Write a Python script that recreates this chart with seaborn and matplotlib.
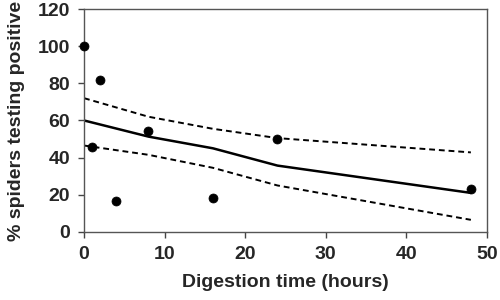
import matplotlib
matplotlib.use("Agg")
import matplotlib.pyplot as plt
import seaborn as sns
import pandas as pd

# observed points
hours = [0, 1, 2, 4, 8, 16, 24, 48]
pct_positive = [100, 45.5, 82, 16.5, 54.5, 18, 50, 23]

# fitted curve and confidence band
fit_hours = [0, 8, 16, 24, 48]
fit_mid = [60, 51.3, 45, 35.7, 21]
fit_upper = [72, 62, 55.5, 50.5, 42.8]
fit_lower = [46.5, 41.5, 34.5, 25, 6.5]

sns.set_style("white")
plt.rcParams['font.family'] = ['Liberation Sans', 'DejaVu Sans']
plt.rcParams['font.weight'] = 'bold'

fig = plt.figure(figsize=(5, 3), dpi=100)
ax = fig.add_axes([0.168, 0.227, 0.806, 0.743])

pts = pd.DataFrame({'x': hours, 'y': pct_positive})
fit = pd.DataFrame({'x': fit_hours, 'mid': fit_mid, 'up': fit_upper, 'lo': fit_lower})

sns.lineplot(data=fit, x='x', y='mid', ax=ax, color='black', lw=1.8)
sns.lineplot(data=fit, x='x', y='up', ax=ax, color='black', lw=1.4, linestyle=(0, (3, 2)))
sns.lineplot(data=fit, x='x', y='lo', ax=ax, color='black', lw=1.4, linestyle=(0, (3, 2)))
sns.scatterplot(data=pts, x='x', y='y', ax=ax, color='black', s=42, edgecolor='black', zorder=5, clip_on=False)

ax.set_xlim(0, 50)
ax.set_ylim(0, 120)
ax.set_xticks(range(0, 51, 10))
ax.set_xticklabels([str(v) for v in range(0, 51, 10)], fontsize=14, fontweight='bold')
ax.set_yticks(range(0, 121, 20))
ax.set_yticklabels([str(v) for v in range(0, 121, 20)], fontsize=14, fontweight='bold')
ax.tick_params(direction='out', length=4, width=1, color='#444', pad=6,
               bottom=True, left=True)
for s in ax.spines.values():
    s.set_color('#555')
    s.set_linewidth(1)
ax.set_xlabel('Digestion time (hours)', fontsize=14, fontweight='bold', labelpad=8)
ax.set_ylabel('% spiders testing positive', fontsize=14, fontweight='bold', labelpad=9)

fig.savefig('out.png', dpi=100)
